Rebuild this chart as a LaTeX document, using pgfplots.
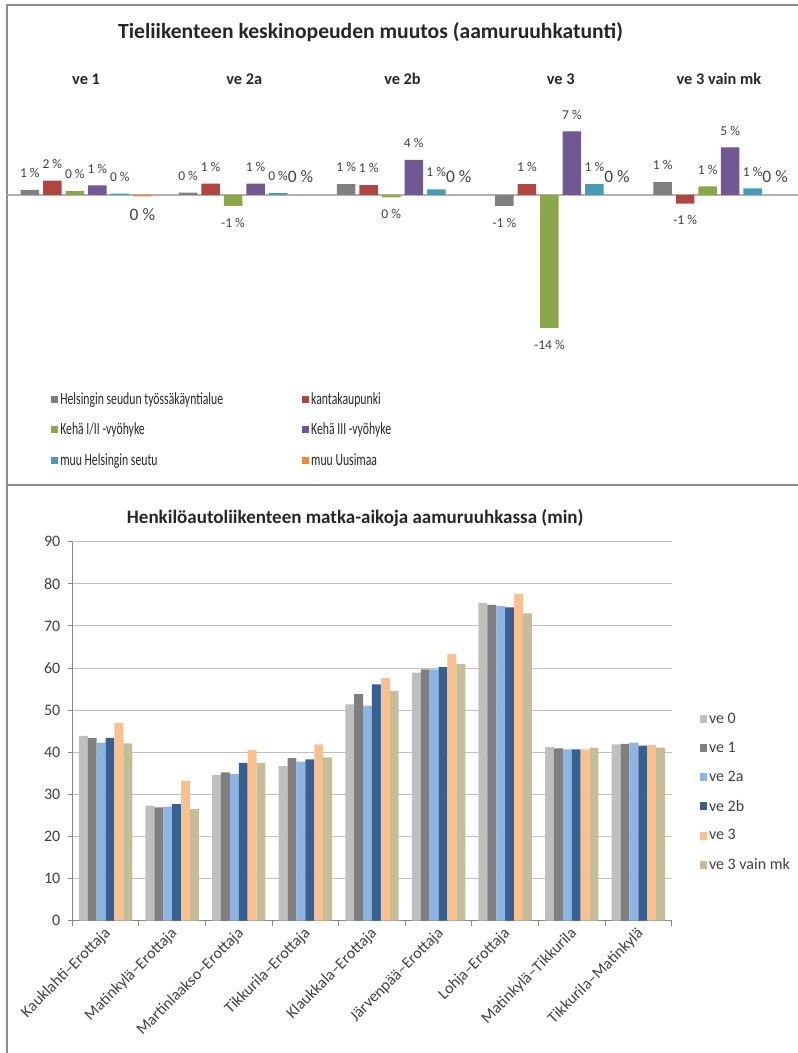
\documentclass[border=0pt]{standalone}
\usepackage{pgfplots}
\pgfplotsset{compat=1.18}
\usepackage{pgfplotstable}
\usepackage{fontspec}
\setmainfont{Carlito}
\newfontfamily\legfont[FakeStretch=0.69]{Carlito}

\definecolor{framegray}{HTML}{8C8C8C}
\definecolor{labelgray}{HTML}{404040}
\definecolor{axgray}{HTML}{868686}
\definecolor{gridgray}{HTML}{C0C0C0}
\definecolor{zgray}{HTML}{7F7F7F}
\definecolor{zred}{HTML}{B04542}
\definecolor{zgreen}{HTML}{8AA84B}
\definecolor{zpurple}{HTML}{715892}
\definecolor{zteal}{HTML}{459CB4}
\definecolor{zorange}{HTML}{E58A3F}
\definecolor{cve0}{HTML}{BFBFBF}
\definecolor{cve1}{HTML}{7F7F7F}
\definecolor{cvea}{HTML}{8EB4E3}
\definecolor{cveb}{HTML}{366092}
\definecolor{cvec}{HTML}{FAC090}
\definecolor{cved}{HTML}{C4BD97}

% matka-ajat (min), reitit 0..8
\pgfplotstableread{
x ve0 ve1 ve2a ve2b ve3 ve3mk
0 43.9 43.4 42.3 43.4 47.0 42.1
1 27.3 26.9 27.1 27.7 33.2 26.5
2 34.6 35.2 34.8 37.5 40.5 37.5
3 36.7 38.6 37.8 38.3 41.9 38.8
4 51.4 53.8 51.1 56.1 57.6 54.6
5 58.9 59.7 59.7 60.2 63.3 61.0
6 75.4 75.0 74.7 74.4 77.6 73.0
7 41.2 40.9 40.7 40.7 40.7 41.1
8 41.9 42.0 42.3 41.6 41.7 41.1
}\traveltimes

\begin{document}
\begin{tikzpicture}
\path[use as bounding box] (0,0) rectangle (798pt,1053pt);
\draw[framegray, line width=2pt] (798pt,1047.5pt) -- (7pt,1047.5pt) -- (7pt,0pt);
\draw[framegray, line width=2pt] (7pt,568pt) -- (798pt,568pt);

% ---- keskinopeuden muutos ----
\begin{axis}[
  at={(7pt,715.5pt)}, anchor=south west,
  scale only axis, width=791pt, height=237.5pt,
  xmin=-0.5, xmax=4.5, ymin=-15, ymax=10,
  ybar=4pt, bar width=18.5pt,
  axis line style={draw=none},
  major tick length=0pt,
  ytick=\empty,
  extra y ticks={0}, extra y tick labels={},
  extra y tick style={grid=major},
  major grid style={draw=gray!60, line width=1.3pt},
  xtick={0,...,4},
  xticklabels={ve 1, ve 2a, ve 2b, ve 3, ve 3 vain mk},
  xticklabel pos=upper,
  x tick label style={font=\fontsize{16.3}{19}\selectfont\bfseries, text=black!85, yshift=12pt},
  point meta=explicit symbolic,
  visualization depends on={rawy \as \rawy},
  nodes near coords,
  nodes near coords style={font=\fontsize{13.5}{16}\selectfont, text=labelgray, inner ysep=12pt, inner xsep=0pt,
    /utils/exec={\ifdim\rawy pt<0pt \def\nncanchor{north}\else\def\nncanchor{south}\fi},
    anchor=\nncanchor},
  title={Tieliikenteen keskinopeuden muutos (aamuruuhkatunti)},
  title style={at={(axis description cs:0.4596,1.261)}, anchor=center, font=\fontsize{21.6}{25}\selectfont\bfseries, text=black!85},
  legend columns=2,
  legend cell align=left,
  legend image code/.code={\draw[#1, draw=none] (0pt,-3.5pt) rectangle (7pt,3.5pt);},
  legend style={at={(axis description cs:0.052,-0.215)}, anchor=north west,
    draw=none, fill=none, font=\legfont\fontsize{17}{19}\selectfont, text=black!85,
    row sep=13pt, /tikz/every even column/.append style={column sep=77pt}},
]
\addplot[fill=zgray, draw=none] coordinates {(0,0.55) [1 \%] (1,0.25) [0 \%] (2,1.15) [1 \%] (3,-1.15) [-1 \%] (4,1.35) [1 \%]};
\addlegendentry{Helsingin seudun työssäkäyntialue}
\addplot[fill=zred, draw=none] coordinates {(0,1.5) [2 \%] (1,1.2) [1 \%] (2,1.05) [1 \%] (3,1.15) [1 \%] (4,-0.9) [-1 \%]};
\addlegendentry{kantakaupunki}
\addplot[fill=zgreen, draw=none] coordinates {(0,0.4) [0 \%] (1,-1.15) [-1 \%] (2,-0.25) [0 \%] (3,-14.0) [-14 \%] (4,0.9) [1 \%]};
\addlegendentry{Kehä I/II -vyöhyke}
\addplot[fill=zpurple, draw=none] coordinates {(0,1.0) [1 \%] (1,1.2) [1 \%] (2,3.7) [4 \%] (3,6.7) [7 \%] (4,5.0) [5 \%]};
\addlegendentry{Kehä III -vyöhyke}
\addplot[fill=zteal, draw=none] coordinates {(0,0.15) [0 \%] (1,0.2) [0 \%] (2,0.6) [1 \%] (3,1.15) [1 \%] (4,0.7) [1 \%]};
\addlegendentry{muu Helsingin seutu}
\addplot[fill=zorange, draw=none, every node near coord/.append style={font=\fontsize{17.5}{20}\selectfont}] coordinates {(0,-0.15) [0 \%] (1,0.01) [0 \%] (2,0.01) [0 \%] (3,0.01) [0 \%] (4,0.01) [0 \%]};
\addlegendentry{muu Uusimaa}
\end{axis}

% ---- matka-ajat ----
\begin{axis}[
  at={(72.3pt,132.3pt)}, anchor=south west,
  scale only axis, width=599.4pt, height=379pt,
  xmin=-0.5, xmax=8.5, ymin=0, ymax=90,
  ybar=0pt, bar width=8.9pt,
  axis lines*=left,
  axis line style={draw=axgray, line width=1pt},
  ytick={0,10,...,90},
  ymajorgrids, major grid style={draw=gridgray, line width=1pt},
  xtick={0,...,8},
  xticklabels={Kauklahti–Erottaja, Matinkylä–Erottaja, Martinlaakso–Erottaja, Tikkurila–Erottaja, Klaukkala–Erottaja, Järvenpää–Erottaja, Lohja–Erottaja, Matinkylä–Tikkurila, Tikkurila–Matinkylä},
  major x tick style={draw=none},
  minor xtick={-0.5,0.5,...,8.5},
  minor x tick style={draw=axgray, line width=1pt},
  ytick style={draw=axgray, line width=1pt},
  minor tick length=5pt, major tick length=4.5pt,
  tick align=outside,
  x tick label style={rotate=45, anchor=east, font=\fontsize{16}{19}\selectfont, text=labelgray, yshift=-6pt, xshift=1pt},
  y tick label style={font=\fontsize{16}{19}\selectfont, text=labelgray, xshift=-4pt},
  /pgf/number format/assume math mode=true,
  title={Henkilöautoliikenteen matka-aikoja aamuruuhkassa (min)},
  title style={at={(axis description cs:0.472,1.0467)}, anchor=center, font=\fontsize{19}{23}\selectfont\bfseries, text=black!85},
  legend cell align=left,
  legend image code/.code={\draw[#1, draw=none] (0pt,-4pt) rectangle (7pt,4pt);},
  legend style={at={(axis description cs:1.042,0.558)}, anchor=north west,
    draw=none, fill=none, font=\fontsize{16}{19}\selectfont, text=labelgray, row sep=13pt},
]
\addplot[fill=cve0, draw=none] table[x=x, y=ve0] {\traveltimes};
\addlegendentry{ve 0}
\addplot[fill=cve1, draw=none] table[x=x, y=ve1] {\traveltimes};
\addlegendentry{ve 1}
\addplot[fill=cvea, draw=none] table[x=x, y=ve2a] {\traveltimes};
\addlegendentry{ve 2a}
\addplot[fill=cveb, draw=none] table[x=x, y=ve2b] {\traveltimes};
\addlegendentry{ve 2b}
\addplot[fill=cvec, draw=none] table[x=x, y=ve3] {\traveltimes};
\addlegendentry{ve 3}
\addplot[fill=cved, draw=none] table[x=x, y=ve3mk] {\traveltimes};
\addlegendentry{ve 3 vain mk}
\end{axis}
\end{tikzpicture}
\end{document}
